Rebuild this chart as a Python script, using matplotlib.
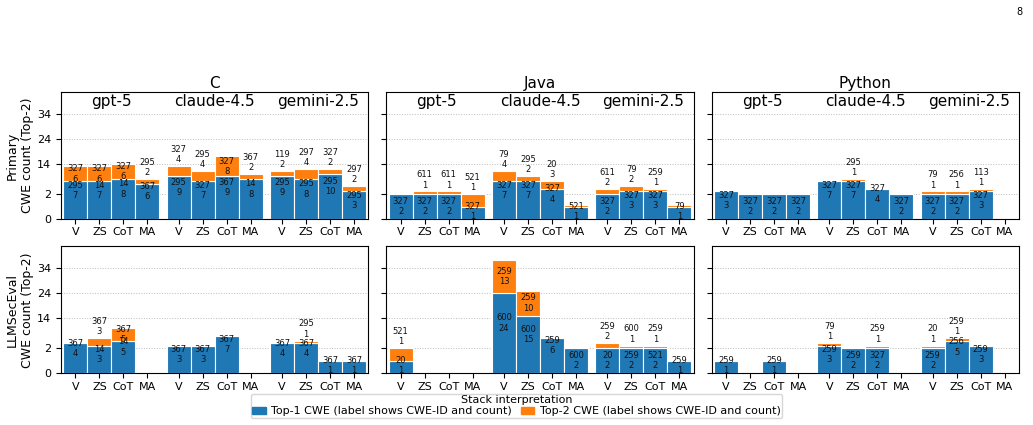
import numpy as np
import matplotlib
matplotlib.use('Agg')
import matplotlib.pyplot as plt
from matplotlib.patches import Patch

# Categorias
languages = ['C', 'Java', 'Python']
models = ['gpt-5', 'claude-4.5', 'gemini-2.5']
strategies = ['V', 'ZS', 'CoT', 'MA']
row_labels = ['Primary\nCWE count (Top-2)', 'LLMSecEval\nCWE count (Top-2)']
y_ticks = [0, 2, 14, 24, 34]

# Orden de cada lista: gpt-5 (V, ZS, CoT, MA), claude-4.5 (...), gemini-2.5 (...)
# Primary / C
p_c_top1_cwe = [295, 14, 14, 367, 295, 327, 367, 14, 295, 295, 295, 295]
p_c_top1_n = [7, 7, 8, 6, 9, 7, 9, 8, 9, 8, 10, 3]
p_c_top2_cwe = [327, 327, 327, 295, 327, 295, 327, 367, 119, 297, 327, 297]
p_c_top2_n = [6, 6, 6, 2, 4, 4, 8, 2, 2, 4, 2, 2]

# Primary / Java
p_java_top1_cwe = [327, 327, 327, 327, 327, 327, 327, 521, 327, 327, 327, 79]
p_java_top1_n = [2, 2, 2, 1, 7, 7, 4, 1, 2, 3, 3, 1]
p_java_top2_cwe = [None, 611, 611, 521, 79, 295, 20, None, 611, 79, 259, None]
p_java_top2_n = [0, 1, 1, 1, 4, 2, 3, 0, 2, 2, 1, 0]

# Primary / Python
p_py_top1_cwe = [327, 327, 327, 327, 327, 327, 327, 327, 327, 327, 327, None]
p_py_top1_n = [3, 2, 2, 2, 7, 7, 4, 2, 2, 2, 3, 0]
p_py_top2_cwe = [None, None, None, None, None, 295, None, None, 79, 256, 113, None]
p_py_top2_n = [0, 0, 0, 0, 0, 1, 0, 0, 1, 1, 1, 0]

# LLMSecEval / C
l_c_top1_cwe = [367, 14, 14, None, 367, 367, 367, None, 367, 367, 367, 367]
l_c_top1_n = [4, 3, 5, 0, 3, 3, 7, 0, 4, 4, 1, 1]
l_c_top2_cwe = [None, 367, 367, None, None, None, None, None, None, 295, None, None]
l_c_top2_n = [0, 3, 5, 0, 0, 0, 0, 0, 0, 1, 0, 0]

# LLMSecEval / Java
l_java_top1_cwe = [20, None, None, None, 600, 600, 259, 600, 20, 259, 521, 259]
l_java_top1_n = [1, 0, 0, 0, 24, 15, 6, 2, 2, 2, 2, 1]
l_java_top2_cwe = [521, None, None, None, 259, 259, None, None, 259, 600, 259, None]
l_java_top2_n = [1, 0, 0, 0, 13, 10, 0, 0, 2, 1, 1, 0]

# LLMSecEval / Python
l_py_top1_cwe = [259, None, 259, None, 259, 259, 327, None, 259, 256, 259, None]
l_py_top1_n = [1, 0, 1, 0, 3, 2, 2, 0, 2, 5, 3, 0]
l_py_top2_cwe = [None, None, None, None, 79, None, 259, None, 20, 259, None, None]
l_py_top2_n = [0, 0, 0, 0, 1, 0, 1, 0, 1, 1, 0, 0]

panels = [
    [(p_c_top1_cwe, p_c_top1_n, p_c_top2_cwe, p_c_top2_n),
     (p_java_top1_cwe, p_java_top1_n, p_java_top2_cwe, p_java_top2_n),
     (p_py_top1_cwe, p_py_top1_n, p_py_top2_cwe, p_py_top2_n)],
    [(l_c_top1_cwe, l_c_top1_n, l_c_top2_cwe, l_c_top2_n),
     (l_java_top1_cwe, l_java_top1_n, l_java_top2_cwe, l_java_top2_n),
     (l_py_top1_cwe, l_py_top1_n, l_py_top2_cwe, l_py_top2_n)],
]

BLUE = '#1f77b4'
ORANGE = '#ff7f0e'


# Escala: 0-2 estirado, lineal por encima de 2
def fwd(y):
    y = np.asarray(y, dtype=float)
    return np.where(y <= 2, 5 * y, y + 8)


def inv(u):
    u = np.asarray(u, dtype=float)
    return np.where(u <= 10, u / 5, u - 8)


group_step = 4.3
x_pos = [g * group_step + i for g in range(len(models)) for i in range(len(strategies))]
max_total = max(a + b for row in panels for p in row for a, b in zip(p[1], p[3]))
y_max = max_total * 1.15

fig, axes = plt.subplots(2, 3, figsize=(10.33, 4.25), dpi=100, sharey=True)
fig.subplots_adjust(left=0.059, right=0.9865, top=0.783, bottom=0.1216,
                    wspace=0.058, hspace=0.216)

for r in range(2):
    for c in range(3):
        ax = axes[r, c]
        ax.set_yscale('function', functions=(fwd, inv))
        top1_cwe, top1_n, top2_cwe, top2_n = panels[r][c]
        for x, c1, n1, c2, n2 in zip(x_pos, top1_cwe, top1_n, top2_cwe, top2_n):
            if not n1:
                continue
            ax.bar(x, n1, width=1.0, color=BLUE, edgecolor='white', linewidth=0.8)
            if n2 > 0:
                h2 = n2
            else:
                h2 = float(inv(fwd(n1) + 0.45)) - n1
            ax.bar(x, h2, bottom=n1, width=1.0, color=ORANGE, edgecolor='white', linewidth=0.8)
            ax.text(x, max(n1 / 2, 0.62), f'{c1}\n{n1}', ha='center', va='center',
                    fontsize=6, color='#111111')
            if n2 >= 5:
                ax.text(x, n1 + n2 / 2, f'{c2}\n{n2}', ha='center', va='center',
                        fontsize=6, color='#111111')
            elif n2 > 0:
                ax.annotate(f'{c2}\n{n2}', xy=(x, n1 + n2), xytext=(0, 8.4),
                            textcoords='offset points', ha='center', va='center',
                            fontsize=6, color='#111111')

        # nombres de modelo solo en la fila superior
        if r == 0:
            for g, m in enumerate(models):
                gx = g * group_step + 1.5
                ax.text(gx, 0.926, m, transform=ax.get_xaxis_transform(),
                        ha='center', va='center', fontsize=11)

        ax.set_xlim(-0.6, x_pos[-1] + 0.6)
        ax.set_ylim(0, y_max)
        ax.set_xticks(x_pos)
        ax.set_xticklabels(strategies * len(models), fontsize=8)
        ax.tick_params(axis='x', pad=2.5)
        ax.set_yticks(y_ticks, labels=[str(t) for t in y_ticks])
        ax.tick_params(axis='y', labelsize=8)
        ax.grid(axis='y', linestyle=':', linewidth=0.7, color='#bbbbbb')
        ax.set_axisbelow(True)
        if r == 0:
            ax.set_title(languages[c], fontsize=11, pad=3)
        if c == 0:
            ax.set_ylabel(row_labels[r], fontsize=9, labelpad=2)

handles = [Patch(color=BLUE), Patch(color=ORANGE)]
labels = ['Top-1 CWE (label shows CWE-ID and count)', 'Top-2 CWE (label shows CWE-ID and count)']
fig.legend(handles, labels, title='Stack interpretation', loc='lower center',
           bbox_to_anchor=(0.5, 0.0165), borderaxespad=0, ncol=2, fontsize=8,
           title_fontsize=8, handlelength=1.2, handleheight=0.6, handletextpad=0.5,
           borderpad=0.15, labelspacing=0.1, columnspacing=0.8)

fig.text(0.987, 0.972, '8', fontsize=7, ha='center', va='center')

plt.savefig('out.png', dpi=100, facecolor='white')
